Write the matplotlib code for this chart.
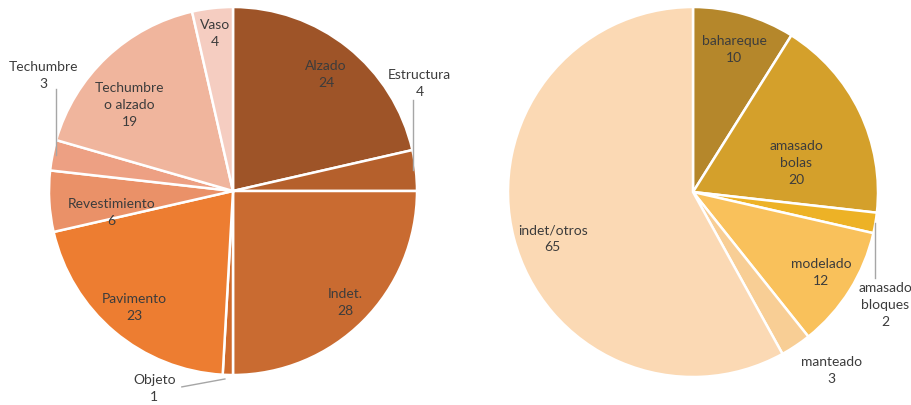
import numpy as np
import matplotlib
matplotlib.use("Agg")
import matplotlib.pyplot as plt

# Left pie: building element categories
elem_labels = ["Alzado", "Estructura", "Indet.", "Objeto", "Pavimento",
               "Revestimiento", "Techumbre", "Techumbre\no alzado", "Vaso"]
elem_values = [24, 4, 28, 1, 23, 6, 3, 19, 4]
elem_colors = ["#9E5428", "#B5602C", "#C96B31", "#CF6A2C", "#ED7D31",
               "#EA9168", "#EDA083", "#F0B59D", "#F5CDC1"]

# Right pie: construction technique categories
tech_labels = ["bahareque", "amasado\nbolas", "amasado\nbloques", "modelado",
               "manteado", "indet/otros"]
tech_values = [10, 20, 2, 12, 3, 65]
tech_colors = ["#B5872B", "#D4A02B", "#EDB226", "#F9C15B", "#F8CE95", "#FBD9B4"]

# label placement: inside labels as (radius fraction, angular nudge in degrees);
# outside labels as (kind, leader length, text offset, text x shift)
elem_place = [(0.81, 0), ("up", 0.38, 0.47, 0.02), (0.86, 0),
              ("side", 0, 0), (0.83, 0), (0.67, 7),
              ("up", 0.36, 0.435, -0.05), (0.73, 7), (0.86, 0)]
tech_place = [(0.80, 0), (0.58, -10), ("down", 0.30, 0.445, 0.055),
              (0.82, 0), (1.22, 4), (0.80, 4)]

TXT = "#3C3C3C"
FONT = "Lato"
FS = 10
LS = 1.5
LEAD = "#A6A6A6"


def label(ax, x, y, text):
    ax.text(x, y, text, ha="center", va="center", fontsize=FS, family=FONT,
            color=TXT, linespacing=LS, clip_on=False)


def draw_pie(ax, values, colors, labels, place):
    wedges, _ = ax.pie(values, colors=colors, startangle=90, counterclock=False,
                       radius=1.0,
                       wedgeprops=dict(edgecolor="white", linewidth=1.8))
    ax.set_xlim(-1, 1)
    ax.set_ylim(-1, 1)
    ax.set_aspect("equal")
    ax.axis("off")
    for w, lab, val, (a, b, *rest) in zip(wedges, labels, values, place):
        mid = np.deg2rad((w.theta1 + w.theta2) / 2)
        text = f"{lab}\n{val}"
        ex, ey = np.cos(mid), np.sin(mid)
        if a == "up":
            lx = ex - 0.018 * np.sign(ex)
            ax.plot([lx, lx], [ey, ey + b], color=LEAD, lw=1, clip_on=False)
            label(ax, ex + rest[1], ey + rest[0], text)
        elif a == "down":
            ax.plot([ex, ex], [ey, ey - b], color=LEAD, lw=1, clip_on=False)
            label(ax, ex + rest[1], ey - rest[0], text)
        elif a == "side":
            ax.plot([ex - 0.016, ex - 0.25], [ey - 0.022, ey - 0.065],
                    color=LEAD, lw=1, clip_on=False)
            label(ax, ex - 0.40, ey - 0.075, text)
        else:
            ang = mid + np.deg2rad(b)
            label(ax, a * np.cos(ang), a * np.sin(ang), text)


W, H = 912, 405
fig = plt.figure(figsize=(W / 100, H / 100), dpi=100)

# left pie: centre (233, 191) px, radius 184 px
r1, cx1, cy1 = 184, 233, 191
ax1 = fig.add_axes([(cx1 - r1) / W, (H - cy1 - r1) / H, 2 * r1 / W, 2 * r1 / H])
draw_pie(ax1, elem_values, elem_colors, elem_labels, elem_place)

# right pie: centre (693, 192) px, radius 185 px
r2, cx2, cy2 = 185, 693, 192
ax2 = fig.add_axes([(cx2 - r2) / W, (H - cy2 - r2) / H, 2 * r2 / W, 2 * r2 / H])
draw_pie(ax2, tech_values, tech_colors, tech_labels, tech_place)

fig.savefig("out.png", dpi=100, facecolor="white")
